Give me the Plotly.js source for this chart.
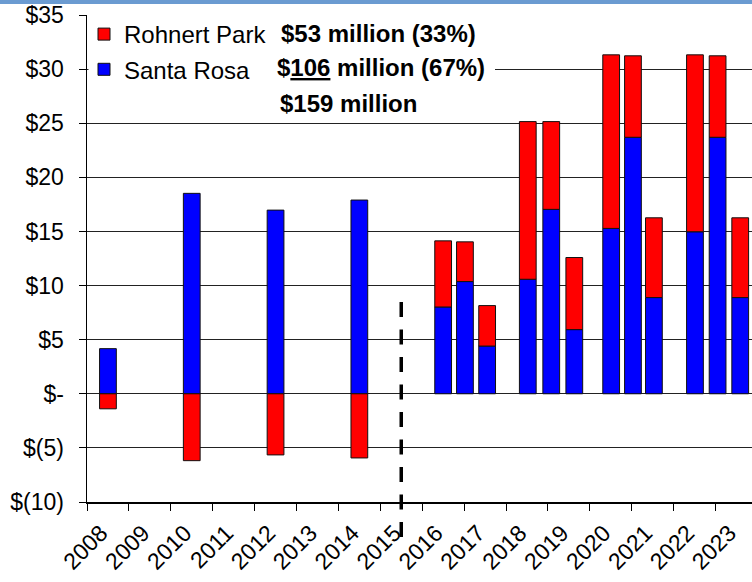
<!DOCTYPE html>
<html>
<head>
<meta charset="utf-8">
<script src="https://cdn.plot.ly/plotly-3.0.1.min.js"></script>
<style>html,body{margin:0;padding:0;background:#fff;}#chart{width:752px;height:582px;}</style>
</head>
<body>
<div id="chart"></div>
<script>
// Bar positions (fractional year on the category axis)
const barPositions = [2008.5, 2010.5, 2012.5, 2014.5, 2016.5, 2017.02, 2017.55, 2018.52, 2019.08, 2019.63, 2020.51, 2021.03, 2021.53, 2022.51, 2023.05, 2023.59];
// $ millions
const santaRosa   = [4.17, 18.52, 16.97, 17.90, 8.02, 10.37, 4.41, 10.58, 17.04, 5.93, 15.28, 23.70, 8.89, 14.97, 23.70, 8.89];
const rohnertPark = [-1.39, -6.18, -5.65, -5.93, 6.11, 3.67, 3.74, 14.57, 8.11, 6.66, 16.04, 7.53, 7.37, 16.35, 7.53, 7.37];
const yearTicks = [2008, 2009, 2010, 2011, 2012, 2013, 2014, 2015, 2016, 2017, 2018, 2019, 2020, 2021, 2022, 2023];
const yearLabels = ["2008","2009","2010","2011","2012","2013","2014","2015","2016","2017","2018","2019","2020","2021","2022","2023"];
const yTickVals = [-10, -5, 0, 5, 10, 15, 20, 25, 30, 35];
const yTickText = ["$(10)", "$(5)", "$-", "$5", "$10", "$15", "$20", "$25", "$30", "$35"];
const summaryLines = ["<b>$53 million (33%)</b>", "<b>$<u>106</u> million (67%)</b>", "<b>$159 million</b>"];

const FONT = "Liberation Sans, Arial, sans-serif";

const traces = [
  {
    type: "bar", name: "Santa Rosa", x: barPositions, y: santaRosa, width: 0.4,
    legendgroup: "sr", legendrank: 2,
    marker: {color: "#0000ff", line: {color: "#111", width: 1}}
  },
  {
    type: "bar", name: "Rohnert Park", x: barPositions, y: rohnertPark, width: 0.4,
    legendgroup: "rp", legendrank: 1,
    marker: {color: "#ff0000", line: {color: "#111", width: 1}}
  }
];

const L = 87, T = 15, B = 80, W = 752, H = 582;
const plotW = W - L, plotH = H - T - B;
const pxPerYear = 41.9;
const px2paperX = px => (px - L) / plotW;
const px2paperY = py => (H - B - py) / plotH;

const layout = {
  width: W, height: H,
  margin: {l: L, r: 0, t: T, b: B, pad: 0},
  paper_bgcolor: "#ffffff", plot_bgcolor: "#ffffff",
  barmode: "relative",
  bargap: 0,
  font: {family: FONT, size: 22, color: "#000"},
  xaxis: {
    range: [2008, 2008 + plotW / pxPerYear],
    tickmode: "array", tickvals: yearTicks, ticktext: yearLabels,
    tickangle: -45, ticks: "outside", ticklen: 7, tickcolor: "#000", tickwidth: 1,
    ticklabelshift: 14,
    showline: true, linecolor: "#000", linewidth: 1.5,
    showgrid: false, zeroline: false,
    tickfont: {family: FONT, size: 23, color: "#000"}
  },
  yaxis: {
    range: [-10, 35],
    tickmode: "array", tickvals: yTickVals, ticktext: yTickText,
    ticks: "outside", ticklen: 7, tickcolor: "#000", tickwidth: 1,
    ticklabelstandoff: 10,
    showline: true, linecolor: "#000", linewidth: 1.5,
    showgrid: true, gridcolor: "#222", gridwidth: 1,
    zeroline: false,
    tickfont: {family: FONT, size: 23, color: "#000"}
  },
  legend: {
    x: px2paperX(84), y: px2paperY(12), xanchor: "left", yanchor: "top",
    bgcolor: "rgba(0,0,0,0)", borderwidth: 0,
    traceorder: "grouped", tracegroupgap: 1,
    font: {family: FONT, size: 24, color: "#000"}
  },
  showlegend: true,
  shapes: [
    // top blue stripe
    {type: "rect", xref: "paper", yref: "paper", x0: px2paperX(-5), x1: px2paperX(760), y0: px2paperY(4), y1: px2paperY(-2),
     fillcolor: "#6b9bd1", line: {width: 0}, layer: "above"},
    // white backing for legend
    {type: "rect", xref: "paper", yref: "paper", x0: px2paperX(88.5), x1: px2paperX(272), y0: px2paperY(95), y1: px2paperY(18),
     fillcolor: "#ffffff", line: {width: 0}, layer: "above"},
    // white backing for summary text
    {type: "rect", xref: "paper", yref: "paper", x0: px2paperX(272), x1: px2paperX(495), y0: px2paperY(114), y1: px2paperY(11),
     fillcolor: "#ffffff", line: {width: 0}, layer: "above"},
    // dashed divider
    {type: "line", xref: "x", yref: "paper", x0: 2015.5, x1: 2015.5, y0: px2paperY(537), y1: px2paperY(298),
     line: {color: "#000", width: 3.5, dash: "15px,12.5px"}, layer: "above"}
  ],
  annotations: [
    {xref: "paper", yref: "paper", x: px2paperX(279), y: px2paperY(33), xanchor: "left", yanchor: "middle",
     text: summaryLines[0], showarrow: false, font: {family: FONT, size: 24, color: "#000"}},
    {xref: "paper", yref: "paper", x: px2paperX(275), y: px2paperY(67), xanchor: "left", yanchor: "middle",
     text: summaryLines[1], showarrow: false, font: {family: FONT, size: 24, color: "#000"}},
    {xref: "paper", yref: "paper", x: px2paperX(278), y: px2paperY(103), xanchor: "left", yanchor: "middle",
     text: summaryLines[2], showarrow: false, font: {family: FONT, size: 24, color: "#000"}}
  ]
};

Plotly.newPlot("chart", traces, layout, {displayModeBar: false, staticPlot: true});
</script>
</body>
</html>
